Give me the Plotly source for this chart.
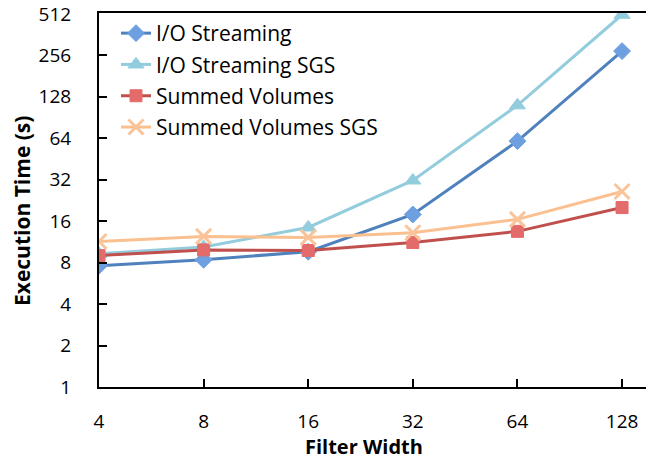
import plotly.graph_objects as go
import math

filter_width = [4, 8, 16, 32, 64, 128]
io_streaming = [7.6, 8.4, 9.6, 17.9, 61, 275]
io_streaming_sgs = [9.3, 10.4, 14.4, 31.6, 111, 505]
summed_volumes = [9.0, 9.9, 9.8, 11.2, 13.5, 20.1]
summed_volumes_sgs = [11.4, 12.4, 12.2, 13.2, 16.5, 26.3]

y_ticks = [1, 2, 4, 8, 16, 32, 64, 128, 256, 512]

FONT = "Open Sans"
# page body adds an 8px offset; figure sized so that the page fits the window
OFF = 8
W, H = 654 - OFF, 457 - OFF
L, T = 99 - OFF, 13 - OFF
R = W - (646 - OFF)
B = H - (387 - OFF)
PW, PH = W - L - R, H - T - B


def px_x(sx):
    return (sx - OFF - L) / PW


def px_y(sy):
    return (T + PH - (sy - OFF)) / PH


series = [
    ("I/O Streaming", io_streaming, "#4F81BD", "#6E9FE0", "diamond", 13),
    ("I/O Streaming SGS", io_streaming_sgs, "#93CDDD", "#93CDDD", "triangle-up", 14),
    ("Summed Volumes", summed_volumes, "#C0504D", "#E36C6A", "square", 12),
    ("Summed Volumes SGS", summed_volumes_sgs, "#FAC090", "#F9C49A", "x-thin", 15),
]

fig = go.Figure()
for i, (name, vals, lc, mc, sym, size) in enumerate(series):
    marker = dict(symbol=sym, size=size, color=mc, line=dict(width=1, color=mc))
    if sym == "x-thin":
        marker = dict(symbol=sym, size=size, color=mc, line=dict(width=3, color=mc))
    fig.add_trace(go.Scatter(
        x=filter_width, y=vals, mode="lines+markers", name=name,
        legendgroup="g%d" % i,
        line=dict(color=lc, width=3), marker=marker,
    ))

fig.update_layout(
    width=W, height=H,
    margin=dict(l=L, r=R, t=T, b=B, autoexpand=False),
    paper_bgcolor="white", plot_bgcolor="white",
    font=dict(family=FONT, size=19, color="black"),
    showlegend=True,
    legend=dict(x=px_x(116), y=px_y(13), xanchor="left", yanchor="top",
                bgcolor="rgba(0,0,0,0)", font=dict(family=FONT, size=21),
                tracegroupgap=1, itemwidth=30),
    annotations=[
        dict(text="<b>Filter Width</b>", xref="paper", yref="paper",
             x=px_x(364), y=px_y(446), xanchor="center", yanchor="middle",
             showarrow=False, borderpad=0, font=dict(family=FONT, size=20)),
        dict(text="<b>Execution Time (s)</b>", xref="paper", yref="paper",
             x=px_x(22), y=px_y(211), xanchor="center", yanchor="middle",
             textangle=-90, showarrow=False, borderpad=0, font=dict(family=FONT, size=21)),
    ],
)
fig.update_xaxes(
    type="log", range=[math.log10(4), math.log10(150)],
    tickvals=filter_width, ticktext=[str(v) for v in filter_width],
    ticks="inside", ticklen=8, tickwidth=2, tickcolor="black",
    showline=True, linecolor="black", linewidth=2, mirror=True,
    showgrid=False, zeroline=False, ticklabelstandoff=16, automargin=False,
    ticklabeloverflow="allow",
)
fig.update_yaxes(
    type="log", range=[0, math.log10(520)],
    tickvals=y_ticks, ticktext=[str(v) for v in y_ticks],
    ticks="inside", ticklen=8, tickwidth=2, tickcolor="black",
    showline=True, linecolor="black", linewidth=2, mirror=True,
    showgrid=False, zeroline=False, ticklabelstandoff=22, automargin=False,
    ticklabeloverflow="allow",
)

fig.write_html("out.html")
